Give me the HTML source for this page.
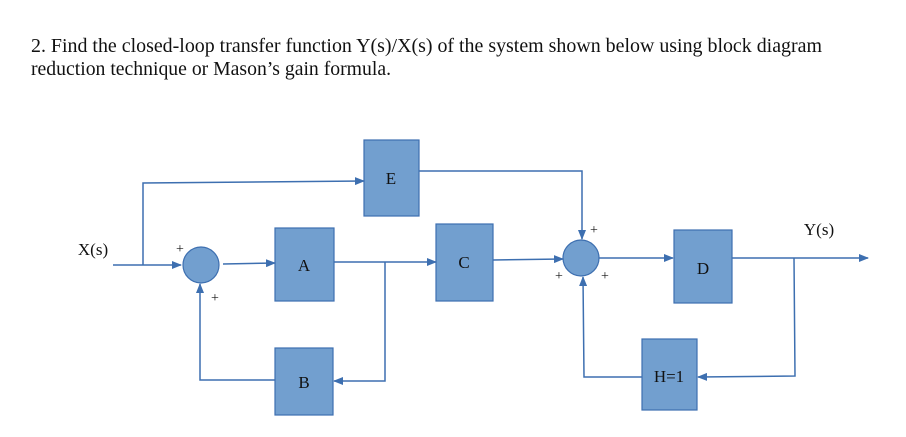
<!DOCTYPE html>
<html><head><meta charset="utf-8"><style>
html,body{margin:0;padding:0;background:#fff;}
svg{display:block;}
text{font-family:"Liberation Serif",serif;fill:#111;}
</style></head><body>
<svg width="906" height="437" viewBox="0 0 906 437" xmlns="http://www.w3.org/2000/svg">
<defs>
<marker id="ar" markerWidth="10" markerHeight="8" refX="9" refY="4" orient="auto" markerUnits="userSpaceOnUse">
<path d="M0,0 L10,4 L0,8 z" fill="#3d6fb0"/></marker>
</defs>
<text x="31" y="52" font-size="20" textLength="791" lengthAdjust="spacingAndGlyphs">2. Find the closed-loop transfer function Y(s)/X(s) of the system shown below using block diagram</text>
<text x="31" y="75" font-size="20" textLength="360" lengthAdjust="spacingAndGlyphs">reduction technique or Mason’s gain formula.</text>

<g fill="#729fcf" stroke="#3d6fb0" stroke-width="1.2">
<rect x="364" y="140" width="55" height="76"/>
<rect x="275" y="228" width="59" height="73"/>
<rect x="436" y="224" width="57" height="77"/>
<rect x="275" y="348" width="58" height="67"/>
<rect x="674" y="230" width="58" height="73"/>
<rect x="642" y="339" width="55" height="71"/>
<circle cx="201" cy="265" r="18"/>
<circle cx="581" cy="258" r="18"/>
</g>

<g stroke="#3d6fb0" stroke-width="1.5" fill="none">
<path d="M113,265 L181,265" marker-end="url(#ar)"/>
<path d="M143,265 L143,183 L364,181" marker-end="url(#ar)"/>
<path d="M223,264 L275,263" marker-end="url(#ar)"/>
<path d="M334,262 L436,262" marker-end="url(#ar)"/>
<path d="M385,262 L385,381 L334,381" marker-end="url(#ar)"/>
<path d="M275,380 L200,380 L200,284" marker-end="url(#ar)"/>
<path d="M419,171 L582,171 L582,239" marker-end="url(#ar)"/>
<path d="M493,260 L563,259" marker-end="url(#ar)"/>
<path d="M599,258 L673,258" marker-end="url(#ar)"/>
<path d="M732,258 L868,258" marker-end="url(#ar)"/>
<path d="M794,258 L795,376 L698,377" marker-end="url(#ar)"/>
<path d="M642,377 L584,377 L583,277" marker-end="url(#ar)"/>
</g>

<g font-size="17" text-anchor="middle">
<text x="391" y="184">E</text>
<text x="304" y="271">A</text>
<text x="464" y="268">C</text>
<text x="304" y="388">B</text>
<text x="703" y="274">D</text>
<text x="669" y="382">H=1</text>
<text x="93" y="255">X(s)</text>
<text x="819" y="235">Y(s)</text>
</g>
<g font-size="14">
<text x="176" y="253">+</text>
<text x="211" y="302">+</text>
<text x="590" y="234">+</text>
<text x="555" y="280">+</text>
<text x="601" y="280">+</text>
</g>
</svg>
</body></html>
